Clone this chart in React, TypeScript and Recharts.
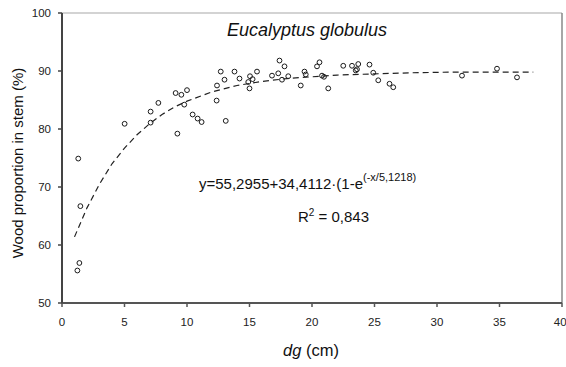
import { ScatterChart, Scatter, XAxis, YAxis, ReferenceLine } from "recharts";

// measured trees: diameter dg (cm) and wood proportion in stem (%)
const dg = [
  1.3, 1.47, 1.39, 1.23, 5.01, 7.09, 7.09, 7.71, 9.09, 9.55, 10.0, 9.78, 9.23,
  10.45, 10.85, 11.17, 12.37, 12.7, 13.0, 12.4, 13.1, 13.8, 14.2, 15.04, 15.25,
  14.9, 15.0, 15.6, 16.8, 17.4, 17.3, 17.8, 17.6, 18.1, 19.1, 19.4, 19.5, 20.4,
  20.6, 20.8, 20.96, 21.3, 22.5, 23.2, 23.7, 23.5, 23.6, 24.6, 24.9, 25.3, 26.2,
  26.5, 32.0, 34.8, 36.4,
];
const wood = [
  74.9, 66.7, 56.9, 55.6, 80.9, 83.0, 81.1, 84.5, 86.2, 85.9, 86.7, 84.2, 79.2,
  82.5, 81.8, 81.2, 84.9, 89.9, 88.5, 87.5, 81.4, 89.9, 88.7, 89.1, 88.6, 88.1,
  87.0, 89.9, 89.2, 91.8, 89.6, 90.8, 88.5, 89.1, 87.5, 89.9, 89.4, 90.8, 91.5,
  89.2, 89.0, 87.0, 90.9, 90.9, 91.2, 90.1, 90.3, 91.1, 89.7, 88.4, 87.8, 87.2,
  89.2, 90.4, 88.9,
];

// dashed fitted curve
const fitDg = [1, 2, 3, 4, 5, 6, 7, 8, 9, 10, 12, 14, 16, 18, 20, 22, 25, 28, 31, 34, 37.7];
const fitWood = [
  61.4, 66.4, 70.5, 74.0, 76.7, 79.0, 80.9, 82.5, 83.8, 84.8, 86.4, 87.5, 88.2,
  88.7, 89.0, 89.3, 89.5, 89.7, 89.8, 89.8, 89.8,
];

const xTicks = [0, 5, 10, 15, 20, 25, 30, 35, 40];
const yTicks = [50, 60, 70, 80, 90, 100];

const observed = dg.map((x, i) => ({ x, y: wood[i] }));
const fitted = fitDg.map((x, i) => ({ x, y: fitWood[i] }));

const FONT = "'Liberation Sans', Arial, sans-serif";

function OpenCircle(props: any) {
  const { cx, cy } = props;
  if (cx == null || cy == null) return <g />;
  return <circle cx={cx} cy={cy} r={2.4} fill="none" stroke="#1a1a1a" strokeWidth={1} />;
}

export default function App() {
  return (
    <div
      style={{
        position: "absolute",
        left: 0,
        top: 0,
        width: 566,
        height: 367,
        background: "#fff",
        fontFamily: FONT,
      }}
    >
      <ScatterChart width={566} height={367} margin={{ top: 13, right: 4, bottom: 0, left: 0 }}>
        <XAxis
          type="number"
          dataKey="x"
          domain={[0, 40]}
          ticks={xTicks}
          height={64}
          axisLine={{ stroke: "#555", strokeWidth: 2 }}
          tickLine={{ stroke: "#555", strokeWidth: 1.5 }}
          tickSize={4}
          tickMargin={11}
          tick={{ fill: "#222", fontSize: 11.5, fontFamily: FONT }}
        />
        <YAxis
          type="number"
          dataKey="y"
          domain={[50, 100]}
          ticks={yTicks}
          width={62}
          axisLine={{ stroke: "#444", strokeWidth: 2 }}
          tickLine={{ stroke: "#444", strokeWidth: 1.5 }}
          tickSize={4}
          tickMargin={7}
          tick={{ fill: "#222", fontSize: 11.5, fontFamily: FONT }}
        />
        <ReferenceLine y={100} stroke="#c4c4c4" strokeWidth={1.5} />
        <ReferenceLine x={40} stroke="#888" strokeWidth={1.5} />
        <Scatter
          data={fitted}
          fill="#222"
          line={{ stroke: "#222", strokeWidth: 1.2, strokeDasharray: "6 4" }}
          lineType="joint"
          shape={() => <g />}
          isAnimationActive={false}
        />
        <Scatter data={observed} fill="#1a1a1a" shape={OpenCircle} isAnimationActive={false} />
      </ScatterChart>
      <svg
        width={566}
        height={367}
        style={{ position: "absolute", left: 0, top: 0, pointerEvents: "none" }}
        fontFamily={FONT}
        fill="#111"
      >
        <text x={307} y={36} textAnchor="middle" fontStyle="italic" fontSize={18}>
          Eucalyptus globulus
        </text>
        <text x={199} y={189} fontSize={15}>
          y=55,2955+34,4112·(1-e
          <tspan dy={-8} fontSize={11}>
            (-x/5,1218)
          </tspan>
        </text>
        <text x={298} y={222} fontSize={15}>
          R
          <tspan dy={-6} fontSize={10}>
            2
          </tspan>
          <tspan dy={6}> = 0,843</tspan>
        </text>
        <text transform="translate(23,163) rotate(-90)" textAnchor="middle" fontSize={15}>
          Wood proportion in stem (%)
        </text>
        <text x={283} y={356} fontSize={16.5}>
          <tspan fontStyle="italic">dg</tspan> (cm)
        </text>
      </svg>
    </div>
  );
}
